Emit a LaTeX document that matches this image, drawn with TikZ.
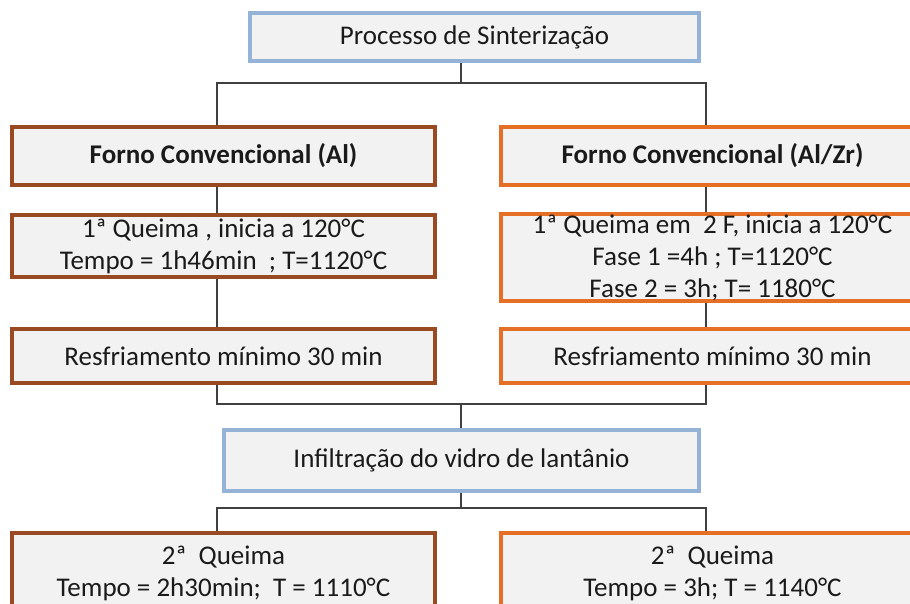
\documentclass[tikz,border=0pt]{standalone}
\usepackage{fontspec}
\setmainfont{Carlito}
\usetikzlibrary{backgrounds}
\definecolor{brn}{HTML}{9A4A22}
\definecolor{org}{HTML}{E66F26}
\definecolor{blu}{HTML}{95B3D7}
\definecolor{boxfill}{HTML}{F2F2F2}
\definecolor{ln}{HTML}{404040}
\definecolor{txt}{HTML}{1A1A1A}
\newcommand\fsz{\fontsize{27}{32}\selectfont}
\begin{document}
\begin{tikzpicture}[x=1pt,y=-1pt,
  box/.style={draw, line width=4pt, fill=boxfill, inner sep=0pt, align=center, font=\fsz, text=txt},
  bluebox/.style={box, draw=blu},
  brownbox/.style={box, draw=brn, minimum width=423pt},
  orangebox/.style={box, draw=org, minimum width=423pt},
  conn/.style={draw=ln, line width=1.5pt}]
\useasboundingbox (0,0) rectangle (910,603);
\clip (0,0) rectangle (910,603);

\node[bluebox, minimum width=449pt, minimum height=48pt] (top) at (474.5,37) {Processo de Sinterização};

\node[brownbox, minimum height=58pt, font=\fsz\bfseries] (fl) at (223.5,156) {Forno Convencional (Al)};
\node[orangebox, minimum height=58pt, font=\fsz\bfseries] (fr) at (712.5,156) {Forno Convencional (Al/Zr)};

\node[brownbox, minimum height=62pt] (ql) at (223.5,246) {1ª Queima , inicia a 120°C\\Tempo = 1h46min\ \ ; T=1120°C};
\node[orangebox, minimum height=87pt] (qr) at (712.5,257.5) {1ª Queima em\ \ 2 F, inicia a 120°C\\Fase 1 =4h ; T=1120°C\\Fase 2 = 3h; T= 1180°C};

\node[brownbox, minimum height=54pt] (rl) at (223.5,356) {Resfriamento mínimo 30 min};
\node[orangebox, minimum height=54pt] (rr) at (712.5,356) {Resfriamento mínimo 30 min};

\node[bluebox, minimum width=475pt, minimum height=61pt] (inf) at (461.5,460.5) {Infiltração do vidro de lantânio};

\node[brownbox, minimum height=80pt] (bl) at (223.5,573) {2ª\ \ Queima\\Tempo = 2h30min;\ \ T = 1110°C};
\node[orangebox, minimum height=80pt] (br) at (712.5,573) {2ª\ \ Queima\\Tempo = 3h; T = 1140°C};

\coordinate (xl) at (217,0);
\coordinate (xr) at (706,0);
\coordinate (j1) at (461,83);
\coordinate (j2) at (461,404);
\coordinate (j3) at (461,508);

\begin{scope}[on background layer]
\draw[conn] (top.south -| j1) -- (j1);
\draw[conn] (fl.north -| xl) |- (j1) -| (fr.north -| xr);
\draw[conn] (fl.south -| xl) -- (ql.north -| xl);
\draw[conn] (ql.south -| xl) -- (rl.north -| xl);
\draw[conn] (fr.south -| xr) -- (qr.north -| xr);
\draw[conn] (qr.south -| xr) -- (rr.north -| xr);
\draw[conn] (rl.south -| xl) |- (j2) -| (rr.south -| xr);
\draw[conn] (j2) -- (inf.north -| j2);
\draw[conn] (inf.south -| j3) -- (j3);
\draw[conn] (bl.north -| xl) |- (j3) -| (br.north -| xr);
\end{scope}
\end{tikzpicture}
\end{document}
